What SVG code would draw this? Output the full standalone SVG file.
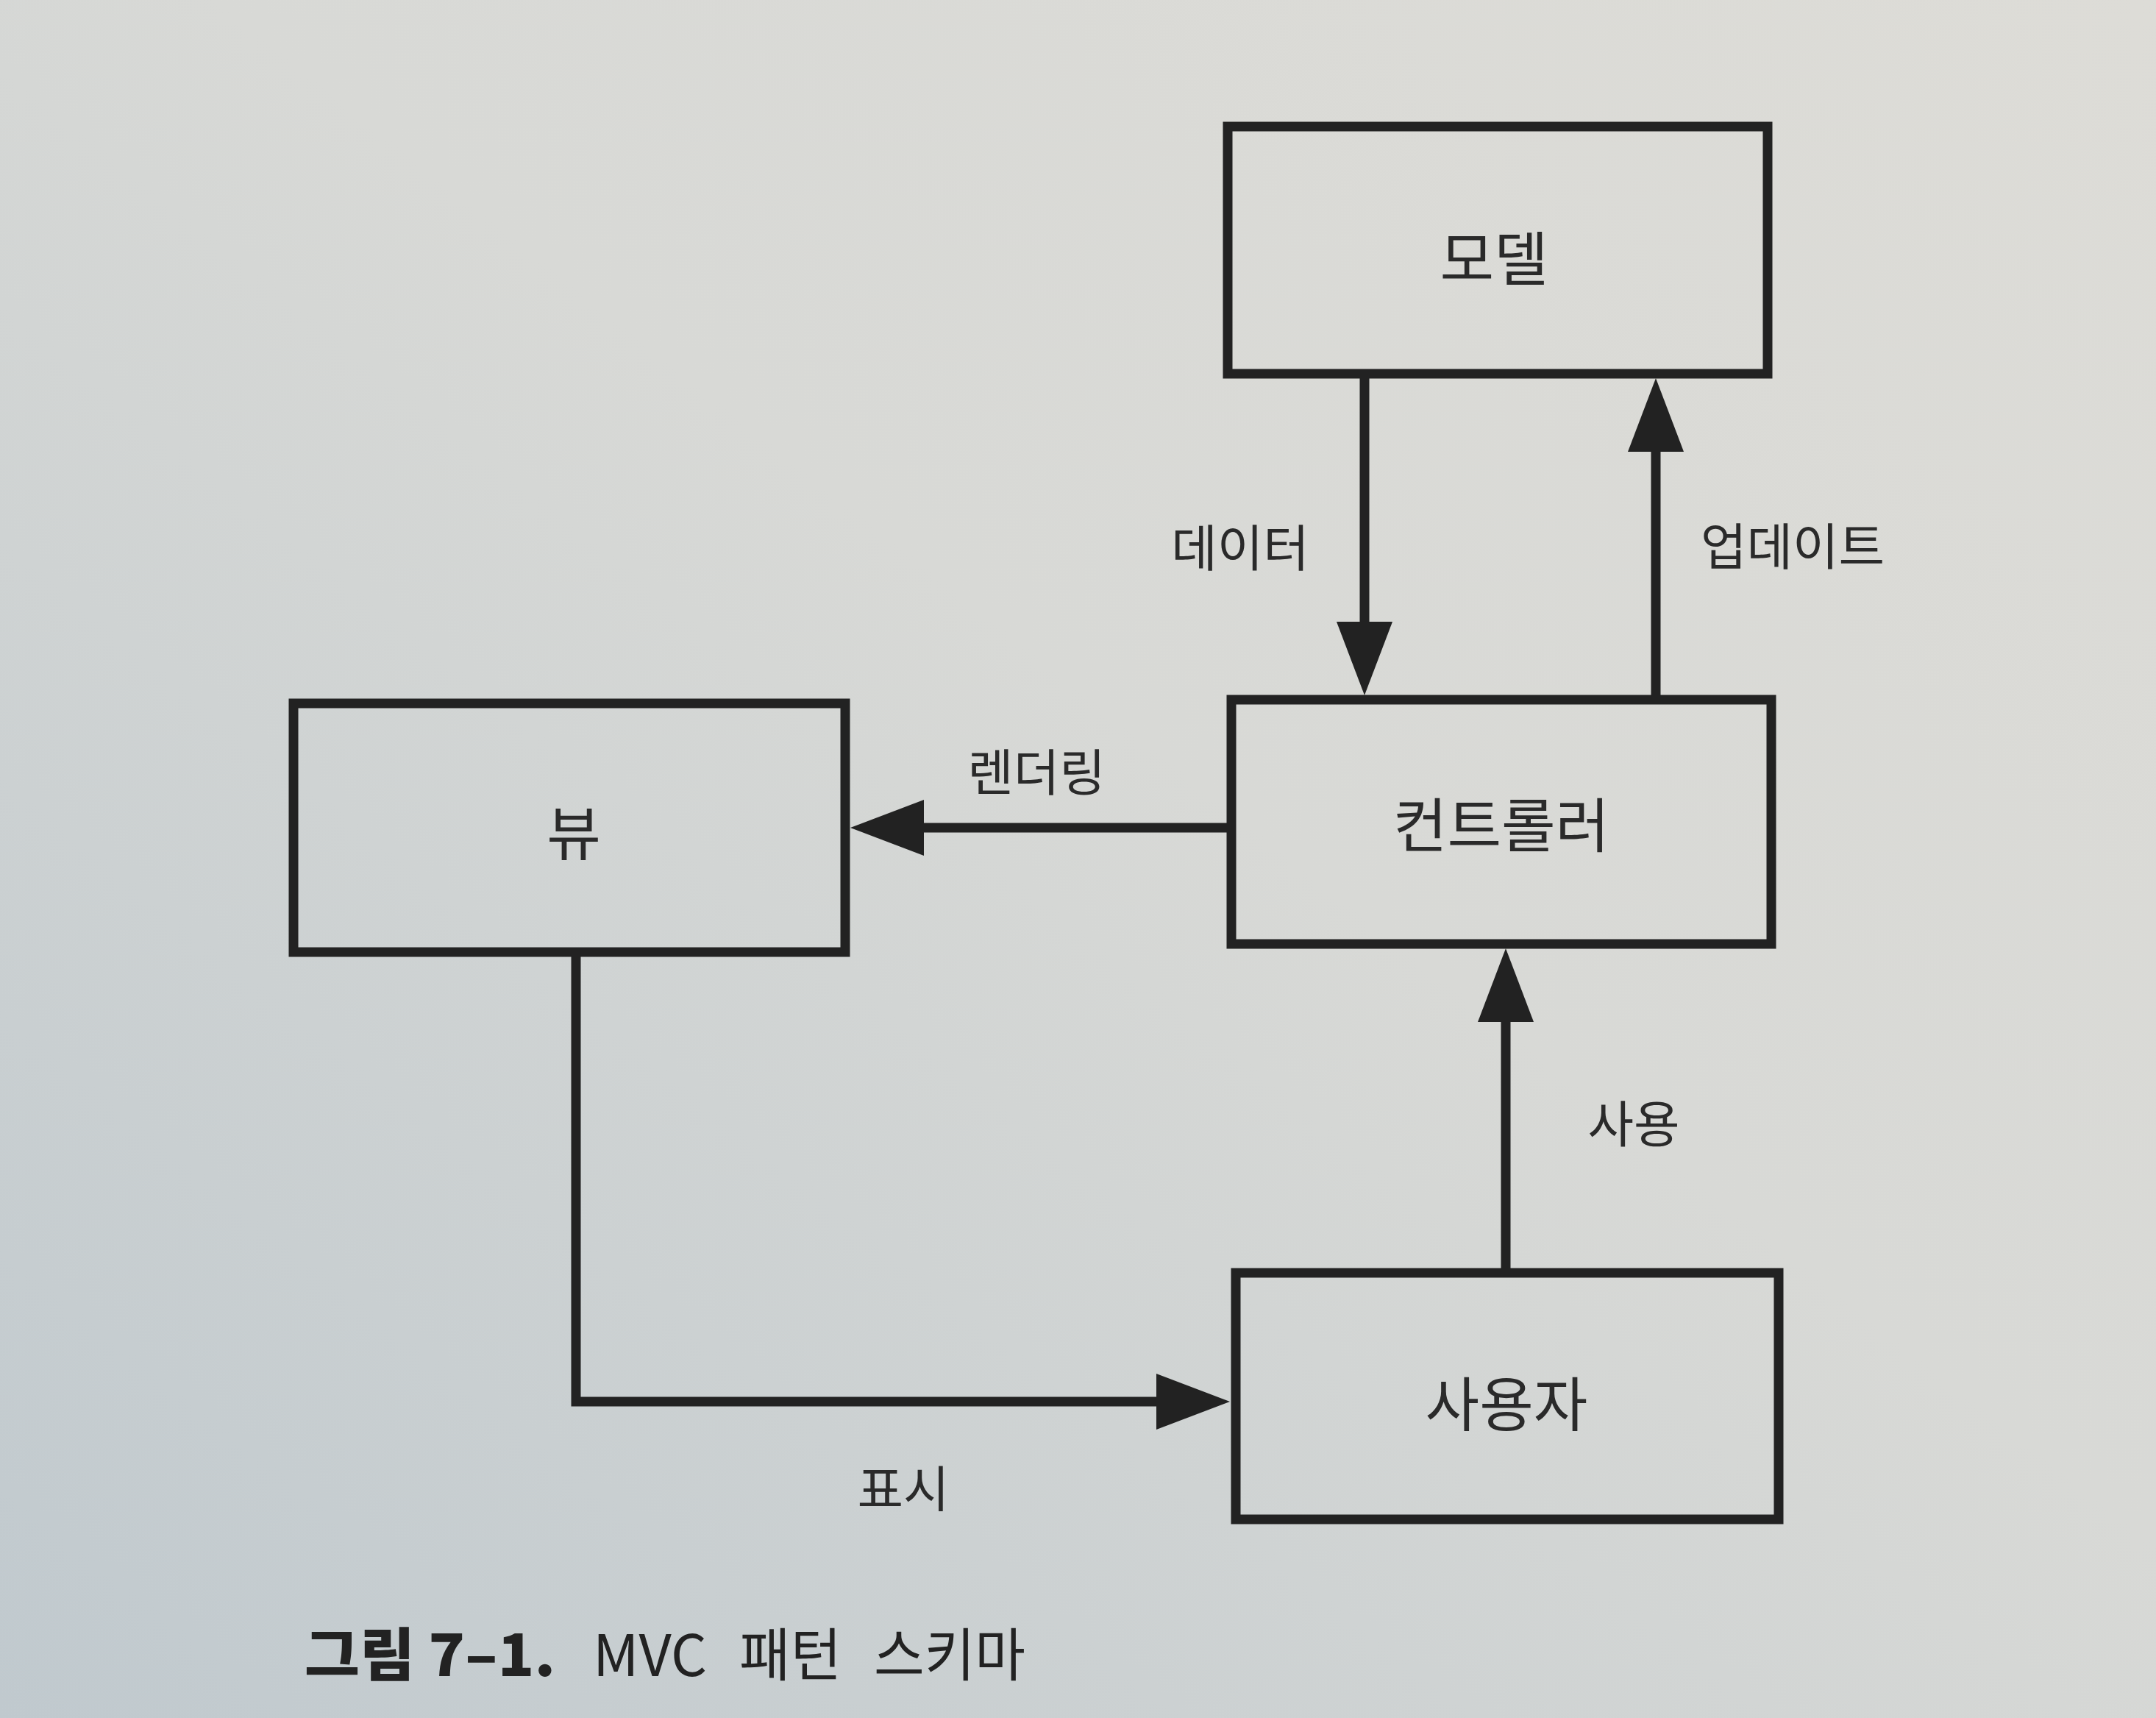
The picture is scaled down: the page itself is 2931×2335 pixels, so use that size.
<svg xmlns="http://www.w3.org/2000/svg" width="2931" height="2335" viewBox="0 0 2931 2335">
  <style>
    .box { fill: none; stroke: #222; stroke-width: 13; }
    .conn { fill: none; stroke: #222; stroke-width: 13; }
    .node { font-family: "Noto Sans CJK KR", "Noto Sans", sans-serif; font-size: 80px; fill: #2a2a2a; text-anchor: middle; dominant-baseline: central; }
    .lbl { font-family: "Noto Sans CJK KR", "Noto Sans", sans-serif; font-size: 68px; fill: #2a2a2a; text-anchor: middle; dominant-baseline: central; }
    .cap { font-family: "Noto Sans CJK KR", "Noto Sans", sans-serif; font-size: 78px; fill: #222; dominant-baseline: central; }
  </style>
  <defs>
    <linearGradient id="bg" x1="1" y1="0" x2="0" y2="1">
      <stop offset="0" stop-color="#dddcd7"/>
      <stop offset="0.45" stop-color="#d8d9d6"/>
      <stop offset="1" stop-color="#c0c9ce"/>
    </linearGradient>
    <marker id="ah" viewBox="0 0 100 76" refX="40" refY="38" markerWidth="100" markerHeight="76" markerUnits="userSpaceOnUse" orient="auto">
      <path d="M0,0 L100,38 L0,76 z" fill="#222"/>
    </marker>
  </defs>
  <rect x="0" y="0" width="2931" height="2335" fill="url(#bg)"/>

  <g id="connectors">
    <line id="c-data" class="conn" x1="1855" y1="514" x2="1855" y2="885" marker-end="url(#ah)"/>
    <line id="c-update" class="conn" x1="2251" y1="945" x2="2251" y2="574" marker-end="url(#ah)"/>
    <line id="c-render" class="conn" x1="1668" y1="1125" x2="1216" y2="1125" marker-end="url(#ah)"/>
    <line id="c-use" class="conn" x1="2047" y1="1724" x2="2047" y2="1349" marker-end="url(#ah)"/>
    <path id="c-display" class="conn" d="M783,1300 V1905 H1612" marker-end="url(#ah)"/>
    <text class="lbl" x="1686" y="740">데이터</text>
    <text class="lbl" x="2437" y="738">업데이트</text>
    <text class="lbl" x="1409" y="1045">렌더링</text>
    <text class="lbl" x="2221" y="1523">사용</text>
    <text class="lbl" x="1228" y="2019">표시</text>
  </g>

  <g id="model">
    <rect class="box" x="1669" y="172" width="734" height="336"/>
    <text class="node" x="2031" y="346">모델</text>
  </g>
  <g id="controller">
    <rect class="box" x="1674" y="951" width="734" height="332"/>
    <text class="node" x="2041" y="1116">컨트롤러</text>
  </g>
  <g id="view">
    <rect class="box" x="399" y="956" width="750" height="338"/>
    <text class="node" x="780" y="1127">뷰</text>
  </g>
  <g id="user">
    <rect class="box" x="1680" y="1730" width="738" height="335"/>
    <text class="node" x="2048" y="1903">사용자</text>
  </g>

  <g id="caption">
    <text class="cap" x="414" y="2244" font-weight="900" textLength="341" lengthAdjust="spacingAndGlyphs">그림 7–1.</text>
    <text class="cap" x="806" y="2244" textLength="155" lengthAdjust="spacingAndGlyphs">MVC</text>
    <text class="cap" x="1005" y="2244" textLength="139" lengthAdjust="spacingAndGlyphs">패턴</text>
    <text class="cap" x="1188" y="2244" textLength="206" lengthAdjust="spacingAndGlyphs">스키마</text>
  </g>
</svg>
